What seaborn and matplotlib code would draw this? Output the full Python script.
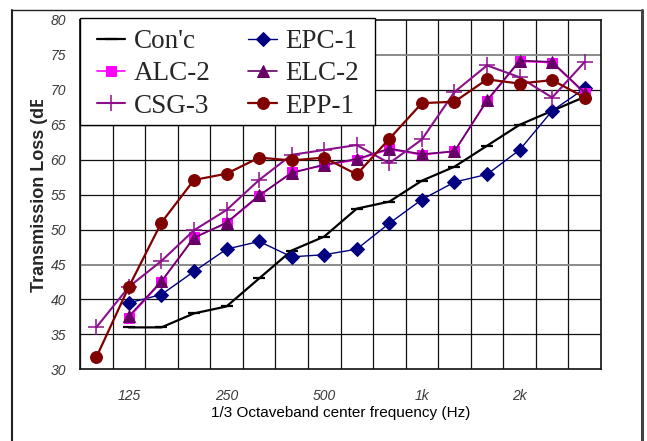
import matplotlib

matplotlib.use("Agg")

import matplotlib.pyplot as plt
import numpy as np
import pandas as pd
import seaborn as sns
from matplotlib.lines import Line2D
from matplotlib.patches import Rectangle
from matplotlib.transforms import Bbox

# 1/3 octave band centres (Hz), 100 Hz .. 3150 Hz
bands = ["100", "125", "160", "200", "250", "315", "400", "500",
         "630", "800", "1k", "1.25k", "1.6k", "2k", "2.5k", "3.15k"]
tick_bands = ["125", "250", "500", "1k", "2k"]

nan = np.nan
conc = [nan, 36, 36, 38, 39, 43, 47, 49, 53, 54, 57, 59, 62, 65, 67, 69]
epc1 = [nan, 39.5, 40.7, 44.0, 47.2, 48.3, 46.1, 46.4, 47.2, 50.9, 54.3, 56.8, 57.9, 61.4, 67.0, 70.2]
alc2 = [nan, 37.4, 42.5, 48.9, 50.9, 54.8, 58.2, 59.2, 60.0, 61.5, 60.7, 61.2, 68.4, 74.1, 73.9, 69.5]
elc2 = [nan, 37.6, 42.6, 48.8, 51.0, 54.9, 58.1, 59.3, 60.1, 61.6, 60.8, 61.2, 68.5, 74.2, 74.0, 69.6]
csg3 = [36.0, 41.8, 45.5, 49.9, 52.8, 57.1, 60.7, 61.4, 62.1, 59.5, 62.9, 69.7, 73.5, 71.8, 68.9, 74.0]
epp1 = [31.7, 41.8, 51.0, 57.1, 58.0, 60.3, 59.9, 60.3, 57.9, 63.0, 68.1, 68.3, 71.5, 70.9, 71.4, 68.9]

sns.set_theme(style="white")
plt.rcParams["font.family"] = ["Liberation Sans", "DejaVu Sans"]

W, H = 647, 441
fig = plt.figure(figsize=(W / 100, H / 100), dpi=100)
ax = fig.add_axes([80 / W, 1 - 369.3 / H, 521 / W, 349.3 / H])

x = np.arange(len(bands))

# grid at band boundaries
for k in range(len(bands) + 1):
    ax.axvline(k - 0.5, color="#111111", lw=0.9, zorder=0)
for v in range(35, 80, 5):
    col = "#8a8a8a" if v in (45, 75) else "#111111"
    ax.axhline(v, color=col, lw=1.4 if v in (45, 75) else 0.9, zorder=0)

series = [
    ("Con'c", conc, dict(color="black", marker="_", markersize=8, markeredgewidth=1.6, linewidth=1.6)),
    ("ALC-2", alc2, dict(color="#ff00ff", marker="s", markersize=7, linewidth=1.2)),
    ("CSG-3", csg3, dict(color="#8b108b", marker="+", markersize=12, markeredgewidth=1.1, linewidth=1.5)),
    ("EPC-1", epc1, dict(color="#000080", marker="D", markersize=7, linewidth=1.0)),
    ("ELC-2", elc2, dict(color="#660066", marker="^", markersize=8, linewidth=1.2)),
    ("EPP-1", epp1, dict(color="#800000", marker="o", markersize=8.5, linewidth=1.6)),
]
draw_order = ["Con'c", "EPC-1", "ALC-2", "ELC-2", "CSG-3", "EPP-1"]
lookup = {name: (vals, kw) for name, vals, kw in series}
for name in draw_order:
    vals, kw = lookup[name]
    df = pd.DataFrame({"x": x, "y": vals}).dropna()
    sns.lineplot(data=df, x="x", y="y", ax=ax, label=name, markeredgecolor=kw["color"], **kw)

ax.set_xlim(-0.5, len(bands) - 0.5)
ax.set_ylim(30, 80)
ax.set_yticks(range(30, 81, 5))
ax.set_xticks([bands.index(b) for b in tick_bands])
ax.set_xticklabels(tick_bands)
ax.tick_params(length=0, labelsize=10, labelcolor="#3a3a3a")
ax.tick_params(axis="y", pad=10)
ax.tick_params(axis="x", pad=14)
for lab in ax.get_xticklabels() + ax.get_yticklabels():
    lab.set_fontstyle("italic")
for sp in ax.spines.values():
    sp.set_color("#111111")
    sp.set_linewidth(1.2)
ax.set_xlabel("1/3 Octaveband center frequency (Hz)", fontsize=11, color="black", labelpad=2)
ax.set_ylabel("")

# y label, clipped at the top like the reference
yl = fig.text(40 / W, 1 - 292 / H, "Transmission Loss (dB)", rotation=90, fontsize=13,
              fontweight="bold", ha="center", va="bottom")
yl.set_clip_box(Bbox.from_extents(0, 0, W, H - 100))
yl.set_clip_on(True)

# legend box drawn separately so its padding can match the reference
box = Rectangle((80 / W, 1 - 125 / H), 295 / W, 107 / H, transform=fig.transFigure,
                facecolor="white", edgecolor="black", lw=1.0, zorder=4)
fig.add_artist(box)

handles, labels = ax.get_legend_handles_labels()
ax.get_legend().remove()
order = [labels.index(n) for n, _, _ in series]
leg = fig.legend([handles[i] for i in order], [labels[i] for i in order], ncol=2,
                 loc="upper left", bbox_to_anchor=(97 / W, 1 - 29 / H), bbox_transform=fig.transFigure,
                 borderaxespad=0, frameon=False,
                 prop={"family": "Liberation Serif", "size": 19.5}, handlelength=1.05,
                 handletextpad=0.3, columnspacing=1.4, labelspacing=0.27, borderpad=0)
leg.set_zorder(5)

# outer frame of the figure
fig.add_artist(Line2D([12 / W, 12 / W], [0, 1 - 10 / H], color="#222222", lw=1.5))
fig.add_artist(Line2D([12 / W, 642 / W], [1 - 10 / H, 1 - 10 / H], color="#222222", lw=1.0))
fig.add_artist(Line2D([642 / W, 642 / W], [0, 1 - 10 / H], color="#444444", lw=2.2))

fig.savefig("out.png", dpi=100)
plt.close(fig)
